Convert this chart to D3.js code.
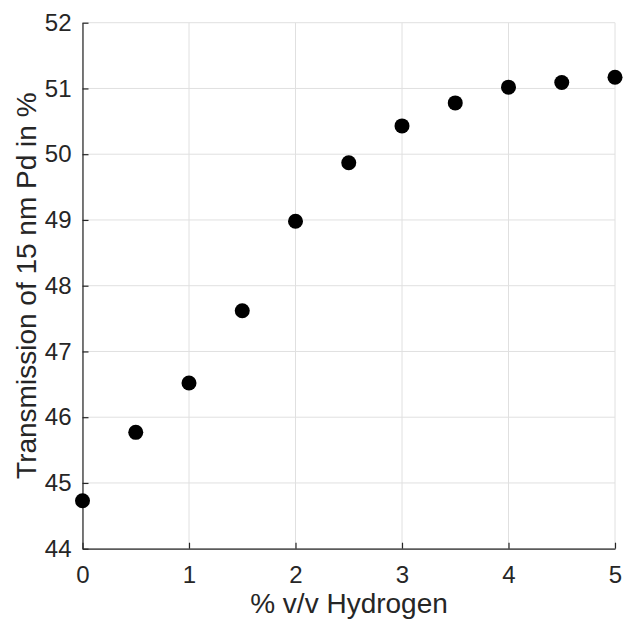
<!DOCTYPE html>
<html>
<head>
<meta charset="utf-8">
<script src="https://cdn.jsdelivr.net/npm/d3@7"></script>
<style>
  body { margin: 0; background: #fff; }
  svg { display: block; }
  text { font-family: "Liberation Sans", Arial, Helvetica, sans-serif; fill: #262626; }
</style>
</head>
<body>
<div id="root"></div>
<script>
// data
const hydrogen = [0, 0.5, 1, 1.5, 2, 2.5, 3, 3.5, 4, 4.5, 5];
const transmission = [44.73, 45.77, 46.52, 47.62, 48.98, 49.87, 50.43, 50.78, 51.02, 51.09, 51.17];
const xTicks = [0, 1, 2, 3, 4, 5];
const yTicks = [44, 45, 46, 47, 48, 49, 50, 51, 52];

const w = 625, h = 623;
const padLeft = 82.5, padRight = 615, padTop = 22.7, padBottom = 548.7;

const svg = d3.select('#root').append('svg')
    .attr('width', w)
    .attr('height', h);

const x = d3.scaleLinear().domain([0, 5]).range([padLeft, padRight]);
const y = d3.scaleLinear().domain([44, 52]).range([padBottom, padTop]);

// grid
svg.append('g').selectAll('line')
    .data(xTicks)
    .enter().append('line')
    .attr('x1', d => x(d)).attr('x2', d => x(d))
    .attr('y1', padTop).attr('y2', padBottom)
    .attr('stroke', '#e0e0e0').attr('stroke-width', 1);
svg.append('g').selectAll('line')
    .data(yTicks)
    .enter().append('line')
    .attr('x1', padLeft).attr('x2', padRight)
    .attr('y1', d => y(d)).attr('y2', d => y(d))
    .attr('stroke', '#e0e0e0').attr('stroke-width', 1);

// axes
const xAxis = d3.axisBottom(x).tickValues(xTicks).tickFormat(d3.format('d'))
    .tickSizeInner(-6).tickSizeOuter(0).tickPadding(17);
const yAxis = d3.axisLeft(y).tickValues(yTicks).tickFormat(d3.format('d'))
    .tickSizeInner(-6).tickSizeOuter(0).tickPadding(11);

const gx = svg.append('g')
    .attr('transform', `translate(0,${padBottom})`)
    .call(xAxis);
const gy = svg.append('g')
    .attr('transform', `translate(${padLeft},0)`)
    .call(yAxis);

[gx, gy].forEach(g => {
    g.select('.domain').attr('stroke', '#262626').attr('stroke-width', 1.2);
    g.selectAll('.tick line').attr('stroke', '#262626').attr('stroke-width', 1.2);
    g.selectAll('.tick text')
        .attr('font-size', 24)
        .attr('fill', '#262626')
        .style('font-family', '"Liberation Sans", Arial, sans-serif');
});

// points
svg.append('g').selectAll('circle')
    .data(hydrogen)
    .enter().append('circle')
    .attr('cx', d => x(d))
    .attr('cy', (d, i) => y(transmission[i]))
    .attr('r', 7.5)
    .attr('fill', '#000');

// labels
svg.append('text')
    .attr('text-anchor', 'middle')
    .attr('x', 349)
    .attr('y', 613)
    .attr('font-size', 28)
    .text('% v/v Hydrogen');

svg.append('text')
    .attr('text-anchor', 'middle')
    .attr('transform', `translate(36,${(padTop + padBottom) / 2})rotate(-90)`)
    .attr('font-size', 28)
    .text('Transmission of 15 nm Pd in %');
</script>
</body>
</html>
